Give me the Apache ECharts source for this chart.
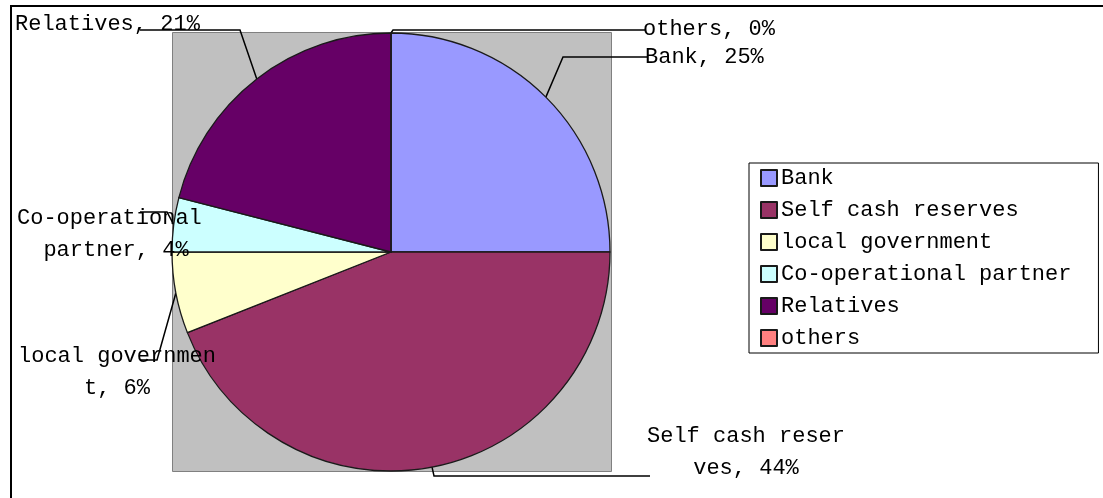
<!DOCTYPE html>
<html>
<head>
<meta charset="utf-8">
<title>Sources of funds</title>
<script src="https://cdn.jsdelivr.net/npm/echarts@6/dist/echarts.min.js"></script>
<style>
  html, body { margin: 0; padding: 0; background: #ffffff; }
  #chart { width: 1103px; height: 498px; }
</style>
</head>
<body>
<div id="chart"></div>
<script>
// Funding sources, share of total (%)
const categories = ['Bank', 'Self cash reserves', 'local government', 'Co-operational partner', 'Relatives', 'others'];
const shares = [25, 44, 6, 4, 21, 0];
const sliceColors = ['#9999ff', '#993366', '#ffffcc', '#ccffff', '#660066', '#ff8080'];

// Pie geometry
const CX = 391, CY = 252, R = 219;
const FONT = '"Liberation Mono", "DejaVu Sans Mono", monospace';

// Where each data label sits, and the elbow/end of its leader line
const labelSpots = [
  { x: 645, y: 57,  align: 'left',   bend: [563, 57],  end: [647, 57] },   // Bank
  { x: 746, y: 452, align: 'center', bend: [434, 476], end: [650, 476] },  // Self cash reserves
  { x: 117, y: 372, align: 'center', bend: [157, 360], end: [140, 360] },  // local government
  { x: 116, y: 234, align: 'center', bend: [167, 212], end: [140, 212] },  // Co-operational partner
  { x: 15,  y: 24,  align: 'left',   bend: [240, 30],  end: [140, 30] },   // Relatives
  { x: 643, y: 29,  align: 'left',   bend: [393, 30],  end: [646, 30] }    // others
];

const chart = echarts.init(document.getElementById('chart'), null, { renderer: 'canvas' });

chart.setOption({
  animation: false,
  backgroundColor: '#ffffff',
  graphic: [
    // chart frame (left and top edges visible)
    {
      type: 'rect', z: 0, silent: true,
      shape: { x: 11, y: 6, width: 1300, height: 700 },
      style: { fill: 'none', stroke: '#000000', lineWidth: 2 }
    },
    // plot area behind the pie
    {
      type: 'rect', z: 0, silent: true,
      shape: { x: CX - R + 0.5, y: CY - R - 0.5, width: 2 * R + 1, height: 2 * R + 1 },
      style: { fill: '#c0c0c0', stroke: '#808080', lineWidth: 1 }
    }
  ],
  legend: {
    orient: 'vertical',
    left: 749,
    top: 163,
    padding: [4, 27, 4, 11],
    itemGap: 10,
    itemWidth: 16,
    itemHeight: 16,
    backgroundColor: '#ffffff',
    borderColor: '#000000',
    borderWidth: 1,
    selectedMode: false,
    icon: 'rect',
    data: categories,
    textStyle: { fontFamily: FONT, fontSize: 22, color: '#000000', padding: [0, 0, 0, -1] }
  },
  series: [{
    type: 'pie',
    center: [CX, CY],
    radius: R,
    startAngle: 90,
    clockwise: true,
    avoidLabelOverlap: false,
    silent: true,
    emphasis: { disabled: true },
    itemStyle: { borderColor: '#1a1a1a', borderWidth: 1.3 },
    label: {
      show: true,
      position: 'outside',
      fontFamily: FONT,
      fontSize: 22,
      lineHeight: 32,
      color: '#000000',
      width: 200,
      overflow: 'breakAll',
      formatter: p => `${p.name}, ${Math.round(p.percent)}%`
    },
    labelLine: {
      show: true,
      length: 10,
      length2: 10,
      smooth: false,
      lineStyle: { color: '#000000', width: 1.5 }
    },
    labelLayout: function (p) {
      const spot = labelSpots[p.dataIndex];
      const out = {
        x: spot.x,
        y: spot.y,
        align: spot.align,
        verticalAlign: 'middle',
        hideOverlap: false
      };
      if (p.labelLinePoints && p.labelLinePoints.length) {
        out.labelLinePoints = [p.labelLinePoints[0], spot.bend, spot.end];
      }
      return out;
    },
    data: categories.map((name, i) => ({
      name: name,
      value: shares[i],
      itemStyle: { color: sliceColors[i] }
    }))
  }]
});
</script>
</body>
</html>
